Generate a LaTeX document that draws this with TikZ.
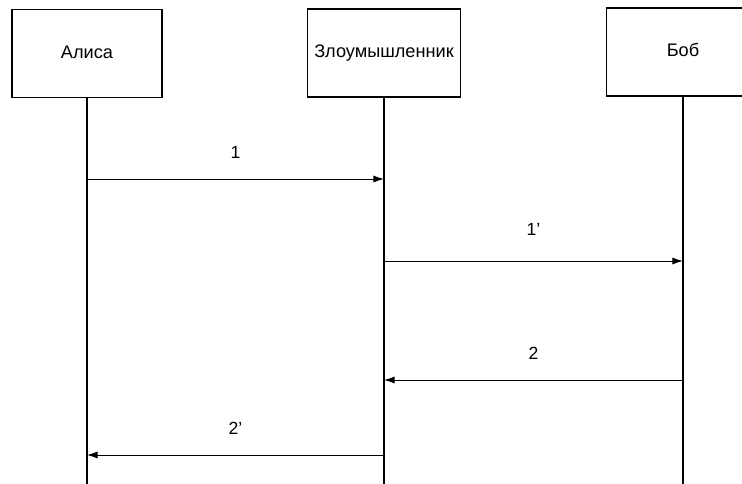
\documentclass[tikz,border=0pt]{standalone}
\usepackage{fontspec}
\setmainfont{Liberation Sans}
\usetikzlibrary{arrows.meta}

\begin{document}
\begin{tikzpicture}[x=0.03cm, y=-0.03cm,
      actor/.style={draw, line width=1.2pt, fill=white, minimum width=4.5cm,
                    minimum height=2.65cm, inner sep=0pt, text height=0.8em, text depth=0em,
                    font=\fontsize{15.5}{18}\selectfont},
      life/.style={line width=1pt},
      msg/.style={-{Latex[length=9pt,width=6pt]}, line width=0.8pt},
      num/.style={font=\fontsize{15}{18}\selectfont}]
      \useasboundingbox (0,0) rectangle (742,484);
      \clip (0,0) rectangle (742,484);
      % Participants
      \node[actor] (alice) at (87,53.5)  {Алиса};
      \node[actor, minimum width=4.6cm] (evil) at (384,53) {Злоумышленник};
      \node[actor, minimum width=4.6cm] (bob)  at (683,52)  {Боб};
      % Lifelines
      \coordinate (bottom) at (0,484);
      \draw[life] (alice.south) -- (alice.south |- bottom);
      \draw[life] (evil.south)  -- (evil.south |- bottom);
      \draw[life] (bob.south)   -- (bob.south |- bottom);
      % Message rows
      \coordinate (m1)  at (0,179);
      \coordinate (m1p) at (0,261);
      \coordinate (m2)  at (0,380);
      \coordinate (m2p) at (0,455);
      % Messages
      \draw[msg] (alice.south |- m1) -- (evil.south |- m1)
            node[num, midway, yshift=0.81cm] {1};
      \draw[msg] (evil.south |- m1p) -- (bob.south |- m1p)
            node[num, midway, yshift=0.95cm] {1'};
      \draw[msg] (bob.south |- m2) -- (evil.south |- m2)
            node[num, midway, yshift=0.81cm] {2};
      \draw[msg] (evil.south |- m2p) -- (alice.south |- m2p)
            node[num, midway, yshift=0.81cm] {2'};
    \end{tikzpicture}
\end{document}
